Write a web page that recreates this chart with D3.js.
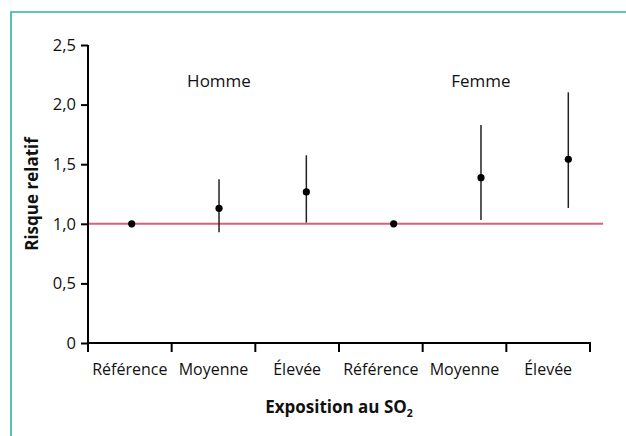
<!DOCTYPE html>
<html><head><meta charset="utf-8">
<script src="https://cdn.jsdelivr.net/npm/d3@7"></script>
<style>body{margin:0;background:#fff;} svg{display:block;font-family:"Open Sans",sans-serif;}</style>
</head><body><svg id="c" width="626" height="436"></svg>
<script>
const categories = ["Référence","Moyenne","Élevée","Référence","Moyenne","Élevée"];
const groups = ["Homme","Femme"];
const rr    = [1.0, 1.13, 1.267, 1.0, 1.387, 1.541];
const lower = [1.0, 0.93, 1.01, 1.0, 1.032, 1.133];
const upper = [1.0, 1.373, 1.575, 1.0, 1.829, 2.103];
const yTicks = [0, 0.5, 1.0, 1.5, 2.0, 2.5];

const svg = d3.select("#c");
// frame
svg.append("path").attr("d","M11,436 V12 H626").attr("fill","none").attr("stroke","#2ab59f").attr("stroke-width",1.6);

const x0 = 88, x1 = 590, yTop = 45, yBot = 343;
const idx = d3.range(categories.length);
const xb = d3.scaleBand().domain(idx).range([x0, x1]).padding(0);
const xp = d3.scalePoint().domain(idx).range([131.7, 568.3]);
const y = d3.scaleLinear().domain([0, 2.5]).range([yBot, yTop]);
const fmt = d => d === 0 ? "0" : d3.format(".1f")(d).replace(".", ",");

// reference line
svg.append("line").attr("x1", x0).attr("x2", 603).attr("y1", y(1)).attr("y2", y(1))
  .attr("stroke","#d9607a").attr("stroke-width",2);

// y axis
const gy = svg.append("g").attr("transform",`translate(${x0},0)`)
  .call(d3.axisLeft(y).tickValues(yTicks).tickFormat(fmt).tickSize(7).tickSizeOuter(0));
gy.select(".domain").attr("stroke","#000").attr("stroke-width",2).attr("d",`M0,${yTop}V${yBot+9}`);
gy.selectAll(".tick line").attr("stroke","#000").attr("stroke-width",2);
gy.selectAll(".tick text").attr("font-size",16.5).attr("fill","#111").attr("x",-12).attr("font-family","Open Sans");

// x axis
const gx = svg.append("g").attr("transform",`translate(0,${yBot})`)
  .call(d3.axisBottom(xb).tickFormat(i => categories[i]).tickSize(0).tickSizeOuter(0));
gx.select(".domain").attr("stroke","#000").attr("stroke-width",2).attr("d",`M${x0-1},0H${x1+1}`);
gx.selectAll(".tick text").attr("font-size",16).attr("fill","#111").attr("y",21).attr("font-family","Open Sans");
const edges = idx.map(i => xb(i)).concat([x1]);
gx.selectAll(".sep").data(edges).enter().append("line").attr("class","sep")
  .attr("x1", d => d).attr("x2", d => d).attr("y1", 0).attr("y2", 9)
  .attr("stroke","#000").attr("stroke-width",2);

// error bars
svg.selectAll(".err").data(idx.filter(i => upper[i] !== lower[i])).enter().append("line")
  .attr("x1", i => xp(i)).attr("x2", i => xp(i))
  .attr("y1", i => y(upper[i])).attr("y2", i => y(lower[i]))
  .attr("stroke","#222").attr("stroke-width",1.5);
// points
svg.selectAll(".pt").data(idx).enter().append("circle")
  .attr("cx", i => xp(i)).attr("cy", i => y(rr[i])).attr("r",3.6).attr("fill","#000");

// group labels
svg.selectAll(".grp").data(groups).enter().append("text")
  .attr("x", (d, g) => xp(g*3+1)).attr("y", 87)
  .attr("text-anchor","middle").attr("font-size",17).attr("fill","#111").text(d => d);

// axis titles
svg.append("text").attr("transform",`translate(38,194) rotate(-90)`).attr("text-anchor","middle")
  .attr("font-size",17).attr("font-weight","bold").attr("fill","#111").text("Risque relatif");
const t = svg.append("text").attr("x", 339).attr("y", 413).attr("text-anchor","middle")
  .attr("font-size",17).attr("font-weight","bold").attr("fill","#111");
t.append("tspan").text("Exposition au SO");
t.append("tspan").attr("font-size",10.5).attr("dy",4).text("2");
</script></body></html>
